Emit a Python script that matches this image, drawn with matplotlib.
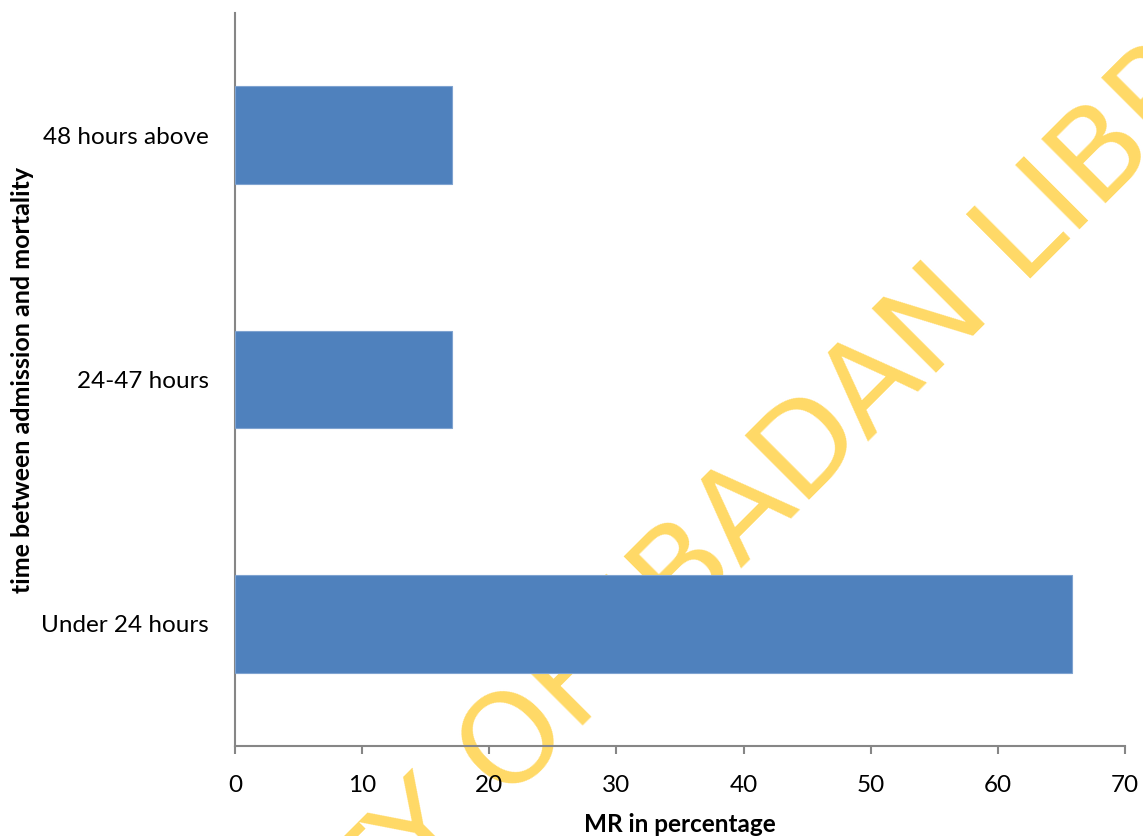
import matplotlib
matplotlib.use("Agg")
import matplotlib.pyplot as plt

categories = ["Under 24 hours", "24-47 hours", "48 hours above"]
values = [65.85, 17.07, 17.07]
xticks = [0, 10, 20, 30, 40, 50, 60, 70]

plt.rcParams['font.family'] = ['Lato', 'DejaVu Sans']

fig = plt.figure(figsize=(11.43, 8.36), dpi=100)
ax = fig.add_axes([235/1143, 90/836, 890/1143, 733/836])
ax.set_zorder(2)
ax.patch.set_alpha(0)

ax.barh(range(len(categories)), values, height=0.4, color='#4F81BD',
        edgecolor='#7FA3D0', linewidth=0.8, zorder=3)
ax.set_xlim(0, 70)
ax.set_ylim(-0.5, 2.5)
ax.set_xticks(xticks)
ax.set_yticks(range(len(categories)))
ax.set_yticklabels(categories)
for s in ['top', 'right']:
    ax.spines[s].set_visible(False)
for s in ['left', 'bottom']:
    ax.spines[s].set_color('#868686')
    ax.spines[s].set_linewidth(1.5)
ax.tick_params(axis='x', length=6, width=1.5, color='#868686', labelsize=17.5, pad=15)
ax.tick_params(axis='y', length=0, labelsize=17.5, pad=19)
ax.set_xlabel('MR in percentage', fontsize=17.5, fontweight='bold', labelpad=12)
ax.set_ylabel('time between admission and mortality', fontsize=18, fontweight='bold', labelpad=5)

fig.text(645/1143, 1 - 615/836, 'UNIVERSITY OF IBADAN LIBRARY', fontsize=90, color='#FFD966',
         rotation=45, rotation_mode='anchor', ha='center', va='center',
         family='DejaVu Sans', zorder=1)

fig.savefig('out.png', dpi=100)
